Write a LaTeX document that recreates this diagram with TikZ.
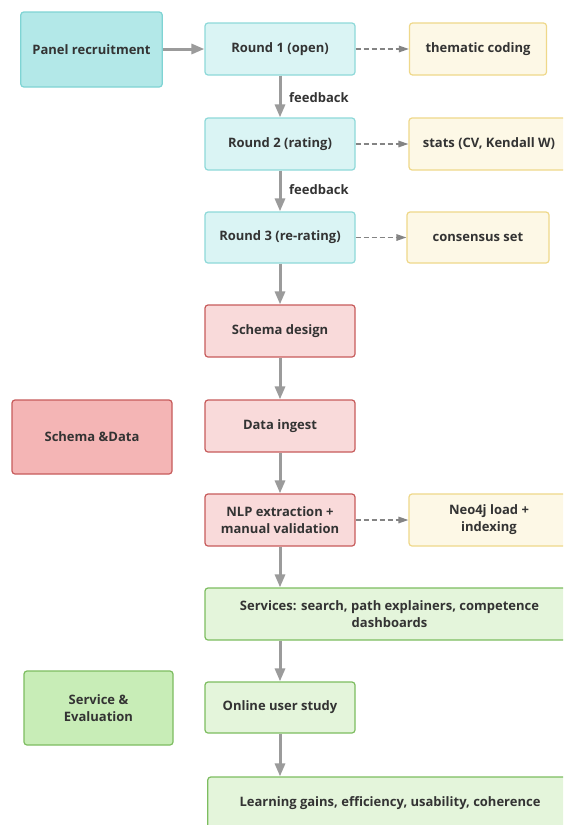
\documentclass[tikz,border=0pt]{standalone}
\usepackage{fontspec}
\setmainfont{Open Sans}
\usetikzlibrary{arrows.meta}
\definecolor{tealfill}{HTML}{B3E8E8}
\definecolor{tealdraw}{HTML}{7FD4D4}
\definecolor{ltealfill}{HTML}{DAF4F4}
\definecolor{ltealdraw}{HTML}{8ED9D9}
\definecolor{yelfill}{HTML}{FDF8E6}
\definecolor{yeldraw}{HTML}{EFD88A}
\definecolor{redfill}{HTML}{F9DADA}
\definecolor{reddraw}{HTML}{C75B5B}
\definecolor{dredfill}{HTML}{F4B5B5}
\definecolor{grnfill}{HTML}{E4F5DB}
\definecolor{grndraw}{HTML}{7DBD60}
\definecolor{dgrnfill}{HTML}{C8EDB7}
\definecolor{arrowgray}{HTML}{9B9B9B}
\definecolor{txt}{HTML}{333333}
\begin{document}
\begin{tikzpicture}[x=1pt,y=-1pt,
  box/.style={rounded corners=3pt, line width=1.2pt, align=center, font=\bfseries\fontsize{13}{17}\selectfont, text=txt, inner sep=2pt},
  tealbox/.style={box, fill=tealfill, draw=tealdraw},
  roundbox/.style={box, fill=ltealfill, draw=ltealdraw},
  yelbox/.style={box, fill=yelfill, draw=yeldraw},
  redbox/.style={box, fill=redfill, draw=reddraw},
  dredbox/.style={box, fill=dredfill, draw=reddraw},
  grnbox/.style={box, fill=grnfill, draw=grndraw},
  dgrnbox/.style={box, fill=dgrnfill, draw=grndraw},
  flow/.style={draw=arrowgray, line width=3pt, -{Triangle[length=13pt,width=10pt]}},
  side/.style={draw=arrowgray!85!black, line width=1.5pt, dash pattern=on 5pt off 3pt, -{Triangle[length=10pt,width=6.5pt]}},
  lbl/.style={font=\bfseries\fontsize{13}{15}\selectfont, text=txt, anchor=west, inner sep=0pt}
]
\useasboundingbox (0,0) rectangle (563,825);
\clip (0,0) rectangle (563,825);
\fill[white] (0,0) rectangle (563,825);

\node[tealbox, minimum width=141.5pt, minimum height=75pt] (panel) at (91.5,49.5) {Panel recruitment};
\node[roundbox, minimum width=150pt, minimum height=52pt] (r1) at (280,49) {Round 1 (open)};
\node[yelbox, minimum width=137pt, minimum height=52pt] (them) at (478,49) {thematic coding};
\node[roundbox, minimum width=150pt, minimum height=52pt] (r2) at (280,144) {Round 2 (rating)};
\node[yelbox, minimum width=160pt, minimum height=52pt] (stats) at (489,144) {stats (CV, Kendall W)};
\node[roundbox, minimum width=150pt, minimum height=51pt] (r3) at (280,237.5) {Round 3 (re-rating)};
\node[yelbox, minimum width=142pt, minimum height=51pt] (cons) at (478,237.5) {consensus set};

\node[redbox, minimum width=150pt, minimum height=52pt] (schema) at (280,331) {Schema design};
\node[dredbox, minimum width=160pt, minimum height=74pt] (sd) at (92,437) {Schema \&Data};
\node[redbox, minimum width=150pt, minimum height=52pt] (ingest) at (280,426) {Data ingest};
\node[redbox, minimum width=150pt, minimum height=52pt] (nlp) at (280,520) {NLP extraction +\\manual validation};
\node[yelbox, minimum width=160pt, minimum height=52pt] (neo) at (489,520) {Neo4j load +\\indexing};

\node[grnbox, minimum width=369pt, minimum height=52pt] (serv) at (389.5,614) {Services: search, path explainers, competence\\dashboards};
\node[dgrnbox, minimum width=149pt, minimum height=74pt] (se) at (98.5,708) {Service \&\\Evaluation};
\node[grnbox, minimum width=150pt, minimum height=51pt] (online) at (280,707.5) {Online user study};
\node[grnbox, minimum width=364.5pt, minimum height=52pt] (learn) at (390,803) {Learning gains, efficiency, usability, coherence};

\draw[flow] (panel.east |- r1.west) -- (r1.west);
\draw[flow] (r1) -- (r2);
\draw[flow] (r2) -- (r3);
\draw[flow] (r3) -- (schema);
\draw[flow] (schema) -- (ingest);
\draw[flow] (ingest) -- (nlp);
\draw[flow] (nlp.south) -- (nlp.south |- serv.north);
\draw[flow] (nlp.south |- serv.south) -- (online.north);
\draw[flow] (online.south) -- (online.south |- learn.north);

\draw[side] (r1) -- (them);
\draw[side] (r2) -- (stats);
\draw[side] (r3) -- (cons);
\draw[side] (nlp) -- (neo);

\node[lbl] (fb1) at (289,98) {feedback};
\node[lbl] (fb2) at (289,190) {feedback};
\end{tikzpicture}
\end{document}
